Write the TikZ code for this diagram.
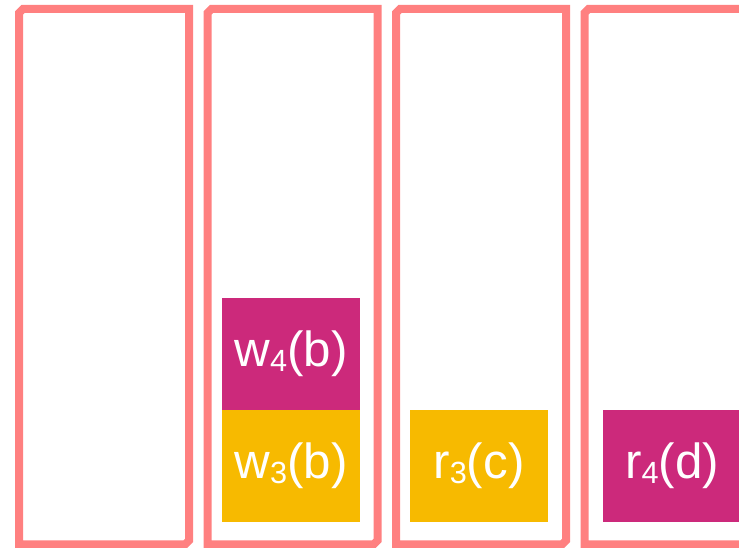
\documentclass[tikz,border=0pt]{standalone}
\usepackage{fontspec}
\setmainfont{Liberation Sans}
\definecolor{salmon}{RGB}{255,128,128}
\definecolor{mag}{RGB}{204,41,123}
\definecolor{amber}{RGB}{247,186,0}
\newcommand{\sbs}[1]{\raisebox{-3.8pt}{\fontsize{23}{23}\selectfont #1}}
\tikzset{
  colframe/.style={draw=salmon, line width=6pt, line join=miter},
  opbox/.style={minimum width=103.5pt, minimum height=84pt, inner sep=0pt, outer sep=0pt,
    text=white, font=\fontsize{37}{42}\selectfont},
  magbox/.style={opbox, fill=mag},
  ambbox/.style={opbox, fill=amber}
}
\begin{document}
\begin{tikzpicture}[x=0.75pt, y=-0.75pt]
\useasboundingbox (0,0) rectangle (739,548);
\clip (0,0) rectangle (739,548);
\foreach \L in {19,207.5,396,584.5}{
  \pgfmathsetmacro{\R}{\L+170}
  \draw[colframe] (\L,544.5) -- (\L,13) -- (\L+4,9) -- (\R,9) -- (\R,540.5) -- (\R-4,544.5) -- cycle;
}
\node[magbox] (w4b) at (291,354) {w\sbs{4}(b)};
\node[ambbox] (w3b) at (291,466) {w\sbs{3}(b)};
\node[ambbox] (r3c) at (479,466) {r\sbs{3}(c)};
\node[magbox] (r4d) at (672,466) {r\sbs{4}(d)};
\end{tikzpicture}
\end{document}
